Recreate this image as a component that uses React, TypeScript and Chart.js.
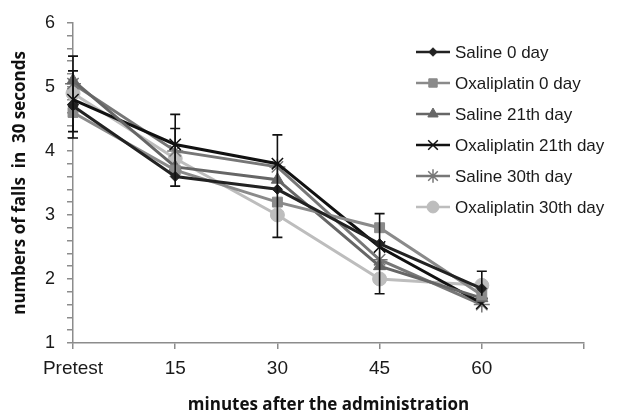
import React, { useEffect, useRef } from "react";
import { Chart, registerables } from "chart.js";
import { drawPoint } from "chart.js/helpers";

Chart.register(...registerables);

const categories = ["Pretest", "15", "30", "45", "60", ""];
const seriesNames = [
  "Saline 0 day",
  "Oxaliplatin 0 day",
  "Saline 21th day",
  "Oxaliplatin 21th day",
  "Saline 30th day",
  "Oxaliplatin 30th day",
];
const saline0 = [4.7, 3.6, 3.4, 2.55, 1.85];
const oxali0 = [4.6, 3.7, 3.2, 2.8, 1.75];
const saline21 = [5.1, 3.75, 3.55, 2.2, 1.7];
const oxali21 = [4.8, 4.1, 3.8, 2.5, 1.62];
const saline30 = [5.05, 4.0, 3.75, 2.3, 1.6];
const oxali30 = [4.9, 3.88, 3.0, 2.0, 1.9];

const errUpperA = [5.48, 4.57, 4.25, 3.02, 2.12];
const errLowerA = [4.2, 3.45, 2.65, 1.77, null];
const errUpperB = [5.25, 4.35, null, null, null];
const errLowerB = [4.3, null, null, null, null];

const yTicks = [1, 2, 3, 4, 5, 6];

const colors = ["#222222", "#8a8a8a", "#666666", "#111111", "#777777", "#bdbdbd"];
const pointStyles = ["rectRot", "rect", "triangle", "crossRot", "star", "circle"];
const pointRadii = [5, 7, 7, 8, 8, 7];

export default function App() {
  const ref = useRef<HTMLCanvasElement | null>(null);
  useEffect(() => {
    if (!ref.current) return;
    const values = [saline0, oxali0, saline21, oxali21, saline30, oxali30];

    const errorBars = {
      id: "errorBars",
      afterDatasetsDraw(chart: any) {
        const ctx = chart.ctx;
        const x = chart.scales.x;
        const y = chart.scales.y;
        ctx.save();
        ctx.strokeStyle = "#111";
        ctx.lineWidth = 1.6;
        const cap = 5;
        const pairs: [Array<number | null>, Array<number | null>][] = [
          [errUpperA, errLowerA],
          [errUpperB, errLowerB],
        ];
        pairs.forEach(([up, low]) => {
          up.forEach((u, i) => {
            const px = x.getPixelForValue(i);
            const l = low[i];
            const mid = values.reduce((s, v) => s + v[i], 0) / values.length;
            ctx.beginPath();
            if (u != null) {
              const py = y.getPixelForValue(u);
              ctx.moveTo(px, y.getPixelForValue(mid));
              ctx.lineTo(px, py);
              ctx.moveTo(px - cap, py);
              ctx.lineTo(px + cap, py);
            }
            if (l != null) {
              const py = y.getPixelForValue(l);
              ctx.moveTo(px, y.getPixelForValue(mid));
              ctx.lineTo(px, py);
              ctx.moveTo(px - cap, py);
              ctx.lineTo(px + cap, py);
            }
            ctx.stroke();
          });
        });
        ctx.restore();
      },
    };

    const customLegend = {
      id: "customLegend",
      afterDraw(chart: any) {
        const ctx = chart.ctx;
        ctx.save();
        const x0 = 416;
        const y0 = 52;
        const gap = 31;
        chart.data.datasets.forEach((ds: any, i: number) => {
          const yy = y0 + i * gap;
          ctx.strokeStyle = ds.borderColor;
          ctx.fillStyle = ds.borderColor;
          ctx.lineWidth = 2.5;
          ctx.beginPath();
          ctx.moveTo(x0, yy);
          ctx.lineTo(x0 + 34, yy);
          ctx.stroke();
          ctx.lineWidth = ds.pointStyle === "crossRot" || ds.pointStyle === "star" ? 1.5 : 1;
          drawPoint(
            ctx,
            {
              pointStyle: ds.pointStyle,
              radius: ds.pointRadius * 0.85,
              borderWidth: ctx.lineWidth,
              rotation: 0,
            } as any,
            x0 + 17,
            yy
          );
          ctx.font = "17px 'Liberation Sans', Arial, sans-serif";
          ctx.textBaseline = "middle";
          ctx.textAlign = "left";
          ctx.fillStyle = "#1a1a1a";
          ctx.fillText(ds.label, x0 + 39, yy + 1);
        });
        ctx.restore();
      },
    };

    const chart = new Chart(ref.current, {
      type: "line",
      data: {
        labels: categories,
        datasets: values.map((v, i) => ({
          label: seriesNames[i],
          data: v,
          borderColor: colors[i],
          backgroundColor: colors[i],
          pointStyle: pointStyles[i],
          pointRadius: pointRadii[i],
          pointBorderColor: colors[i],
          pointBackgroundColor: colors[i],
          pointBorderWidth: i === 3 || i === 4 ? 1.5 : 1,
          borderWidth: 3,
          tension: 0,
        })),
      },
      options: {
        animation: false,
        responsive: false,
        devicePixelRatio: 1,
        layout: { padding: { left: 0, right: 37, top: 15, bottom: 0 } },
        plugins: {
          legend: { display: false },
          tooltip: { enabled: false },
        },
        scales: {
          x: {
            offset: false,
            grid: {
              display: true,
              drawOnChartArea: false,
              drawTicks: true,
              tickLength: 6,
              color: "#8c8c8c",
              lineWidth: 1.5,
            },
            border: { color: "#8c8c8c", width: 1.5 },
            ticks: {
              color: "#1a1a1a",
              font: { family: "'Liberation Sans', Arial, sans-serif", size: 19 },
              padding: 8,
              maxRotation: 0,
              autoSkip: false,
            },
            title: {
              display: true,
              text: "minutes after the administration",
              color: "#111",
              font: { family: "'Open Sans', sans-serif", size: 17, weight: "bold", lineHeight: 1 },
              padding: { top: 0, bottom: 0 },
            },
            afterFit(scale: any) {
              scale.height = 71;
            },
          },
          y: {
            min: 1,
            max: 6,
            afterBuildTicks(scale: any) {
              const t: any[] = [];
              for (let k = 0; k <= 25; k++) t.push({ value: Math.round((1 + k * 0.2) * 10) / 10 });
              scale.ticks = t;
            },
            grid: {
              display: true,
              drawOnChartArea: false,
              drawTicks: true,
              tickLength: 6,
              color: "#8c8c8c",
              lineWidth: 1.5,
            },
            border: { color: "#8c8c8c", width: 1.5 },
            ticks: {
              autoSkip: false,
              color: "#1a1a1a",
              font: { family: "'Liberation Sans', Arial, sans-serif", size: 18 },
              padding: 12,
              callback: (v: any) => (yTicks.includes(Number(v)) ? String(v) : ""),
            },
            title: {
              display: true,
              text: "numbers of falls  in  30 seconds",
              color: "#111",
              font: { family: "'Open Sans', sans-serif", size: 17, weight: "bold", lineHeight: 1 },
              padding: { top: 12, bottom: 0 },
            },
            afterFit(scale: any) {
              scale.width = 73;
            },
          },
        },
      },
      plugins: [errorBars, customLegend],
    });
    return () => chart.destroy();
  }, []);

  return (
    <div style={{ position: "fixed", left: 0, top: 0, width: 621, height: 414, background: "#fff" }}>
      <canvas ref={ref} width={621} height={414} style={{ width: 621, height: 414 }} />
    </div>
  );
}
